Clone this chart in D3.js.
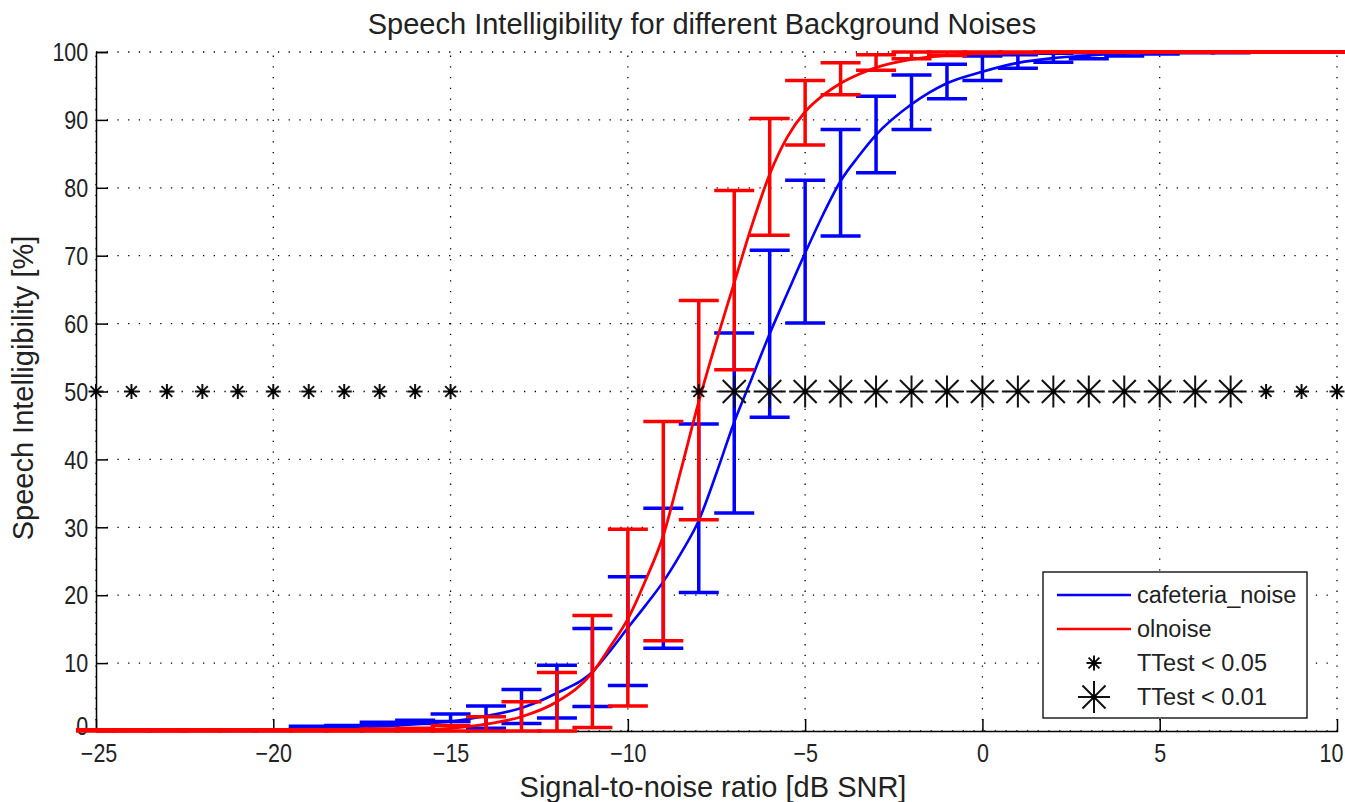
<!DOCTYPE html>
<html>
<head>
<meta charset="utf-8">
<script src="https://cdn.jsdelivr.net/npm/d3@7"></script>
<style>
  body { margin: 0; background: #fff; }
  svg text { font-family: "Liberation Sans", Arial, sans-serif; fill: #222; }
</style>
</head>
<body>
<svg id="chart" width="1345" height="802"></svg>
<script>
// ticks
const xTicks = [-25, -20, -15, -10, -5, 0, 5, 10];
const yTicks = [0, 10, 20, 30, 40, 50, 60, 70, 80, 90, 100];

// fitted curves
const cafeX = [-25, -22, -20, -19, -18, -17, -16, -15, -14, -13, -12, -11, -10.5, -10, -9.5, -9, -8.5, -8, -7.5, -7, -6.5, -6, -5.5, -5, -4.5, -4, -3.5, -3, -2, -1, 0, 1, 2, 3, 4, 5, 6, 8, 10];
const cafeY = [0.05, 0.1, 0.2, 0.3, 0.45, 0.7, 1.0, 1.4, 2.2, 3.4, 5.6, 8.7, 11.8, 15.2, 18.5, 22, 26.2, 31, 38, 45.5, 52, 58.5, 64.5, 70.4, 76, 81, 84.6, 87.8, 92.3, 95.4, 97.1, 98.4, 99.1, 99.5, 99.8, 99.9, 100, 100, 100];

const olX = [-25, -20, -18, -17, -16, -15, -14, -13, -12, -11, -10.5, -10, -9.5, -9, -8.5, -8, -7.5, -7, -6.5, -6, -5.5, -5, -4.5, -4, -3.5, -3, -2, -1, 0, 1, 2, 4, 10];
const olY = [0, 0.02, 0.05, 0.1, 0.2, 0.4, 1.0, 2.1, 4.3, 8.6, 12.4, 16.5, 22.2, 28.8, 38.5, 48.5, 57.5, 66, 74.5, 82, 87.5, 91.2, 93.6, 95.4, 96.7, 97.7, 98.9, 99.5, 99.8, 99.9, 100, 100, 100];

// error bars
const cafeBarX  = [-19, -18, -17, -16, -15, -14, -13, -12, -11, -10, -9, -8, -7, -6, -5, -4, -3, -2, -1, 0, 1, 2, 3, 4, 5, 6, 7, 8, 9, 10];
const cafeBarLo = [0.3, 0.5, 0.8, 1.1, 1.4, 0.4, 1.1, 1.9, 3.6, 6.7, 12.2, 20.4, 32.1, 46.2, 60.1, 72.9, 82.2, 88.6, 93.1, 95.8, 97.6, 98.5, 99.0, 99.4, 99.7, 99.9, 99.9, 100, 100, 100];
const cafeBarHi = [0.7, 0.8, 1.3, 1.6, 2.5, 3.7, 6.1, 9.7, 15.1, 22.7, 32.8, 45.2, 58.6, 70.8, 81.1, 88.6, 93.5, 96.6, 98.2, 99.4, 99.6, 99.8, 99.9, 100, 100, 100, 100, 100, 100, 100];

const olBarX  = [-25, -24, -23, -22, -21, -20, -19, -18, -17, -16, -15, -14, -13, -12, -11, -10, -9, -8, -7, -6, -5, -4, -3, -2, -1, 0, 1, 2, 3, 4, 5, 6, 7, 8, 9, 10];
const olBarLo = [0, 0, 0, 0, 0, 0, 0, 0, 0, 0, 0, 0, 0, 0, 0.5, 3.7, 13.3, 31.1, 53.2, 73.0, 86.3, 93.7, 97.3, 99.0, 99.5, 99.8, 99.9, 100, 100, 100, 100, 100, 100, 100, 100, 100];
const olBarHi = [0.2, 0.2, 0.2, 0.2, 0.2, 0.2, 0.2, 0.2, 0.3, 0.4, 0.8, 2.1, 4.3, 8.6, 17.0, 29.7, 45.6, 63.4, 79.6, 90.2, 95.8, 98.4, 99.6, 100, 100, 100, 100, 100, 100, 100, 100, 100, 100, 100, 100, 100];

// significance markers (all at 50 %)
const p05X = [-25, -24, -23, -22, -21, -20, -19, -18, -17, -16, -15, -8, 8, 9, 10];
const p01X = [-7, -6, -5, -4, -3, -2, -1, 0, 1, 2, 3, 4, 5, 6, 7];
const markY = 50;

const seriesNames = ['cafeteria_noise', 'olnoise', 'TTest < 0.05', 'TTest < 0.01'];
const BLUE = '#0000ff', RED = '#ff0000';

const svg = d3.select('#chart');
const m = { left: 96, right: 1337, top: 52, bottom: 731 };

const x = d3.scaleLinear().domain([-25, 10]).range([m.left, m.right]);
const y = d3.scaleLinear().domain([0, 100]).range([m.bottom, m.top]);

// grid
const grid = svg.append('g').attr('stroke', '#000').attr('stroke-width', 1.3)
  .attr('stroke-dasharray', '1.3,9.4');
grid.selectAll('.gx').data(xTicks).join('line')
  .attr('x1', d => x(d)).attr('x2', d => x(d))
  .attr('y1', m.bottom).attr('y2', m.top);
grid.selectAll('.gy').data(yTicks).join('line')
  .attr('y1', d => y(d)).attr('y2', d => y(d))
  .attr('x1', m.left).attr('x2', m.right);

// axes (inward ticks, MATLAB style, narrow digits)
const xAxis = svg.append('g').attr('transform', `translate(0,${m.bottom})`)
  .call(d3.axisTop(x).tickValues(xTicks).tickSize(12).tickFormat(d3.format('d')));
xAxis.select('.domain').attr('stroke-width', 1.5);
xAxis.selectAll('.tick line').attr('stroke-width', 1.5);
xAxis.selectAll('.tick text').attr('y', 31).attr('dy', 0)
  .attr('font-size', 25).attr('fill', '#222')
  .attr('transform', 'scale(0.86,1)');
xAxis.selectAll('.tick').filter(d => d === 10).select('text').attr('x', -7);
xAxis.selectAll('.tick').filter(d => d === -25).select('text').attr('x', 3);
xAxis.selectAll('.tick').filter(d => d === -25 || d === 10).select('line').remove();

const yAxis = svg.append('g').attr('transform', `translate(${m.left},0)`)
  .call(d3.axisRight(y).tickValues(yTicks).tickSize(12).tickFormat(d3.format('d')));
yAxis.select('.domain').attr('stroke-width', 1.5);
yAxis.selectAll('.tick line').attr('stroke-width', 1.5);
yAxis.selectAll('.tick text').attr('x', -9).attr('text-anchor', 'end')
  .attr('dy', '0.35em').attr('font-size', 25).attr('fill', '#222')
  .attr('transform', 'scale(0.86,1)');
yAxis.selectAll('.tick').filter(d => d === 0).select('text').attr('dy', '0.12em');
yAxis.selectAll('.tick').filter(d => d === 0).select('line').remove();

const line = d3.line().x(d => x(d[0])).y(d => y(d[1])).curve(d3.curveMonotoneX);

function drawBars(xs, lo, hi, color) {
  const g = svg.append('g').attr('stroke', color).attr('stroke-width', 3.5).attr('fill', 'none');
  const capW = 20;
  xs.forEach((xv, i) => {
    const px = x(xv);
    g.append('line').attr('x1', px).attr('x2', px).attr('y1', y(lo[i])).attr('y2', y(hi[i]));
    g.append('line').attr('x1', px - capW).attr('x2', px + capW).attr('y1', y(lo[i])).attr('y2', y(lo[i]));
    g.append('line').attr('x1', px - capW).attr('x2', px + capW).attr('y1', y(hi[i])).attr('y2', y(hi[i]));
  });
}

svg.append('path').datum(d3.zip(cafeX, cafeY)).attr('d', line)
  .attr('fill', 'none').attr('stroke', BLUE).attr('stroke-width', 2.6);
drawBars(cafeBarX, cafeBarLo, cafeBarHi, BLUE);
svg.append('path').datum(d3.zip(olX, olY)).attr('d', line)
  .attr('fill', 'none').attr('stroke', RED).attr('stroke-width', 2.8);
drawBars(olBarX, olBarLo, olBarHi, RED);

function star(g, cx, cy, r, sw) {
  const s = g.append('g').attr('stroke', '#111').attr('stroke-width', sw);
  const d = r * 0.72;
  s.append('line').attr('x1', cx - r).attr('x2', cx + r).attr('y1', cy).attr('y2', cy);
  s.append('line').attr('x1', cx).attr('x2', cx).attr('y1', cy - r).attr('y2', cy + r);
  s.append('line').attr('x1', cx - d).attr('x2', cx + d).attr('y1', cy - d).attr('y2', cy + d);
  s.append('line').attr('x1', cx - d).attr('x2', cx + d).attr('y1', cy + d).attr('y2', cy - d);
  g.append('circle').attr('cx', cx).attr('cy', cy).attr('r', sw * 1.3).attr('fill', '#000');
}

const mk = svg.append('g');
p05X.forEach(v => star(mk, x(v), y(markY), 7.5, 2));
p01X.forEach(v => star(mk, x(v), y(markY), 16, 2));

// title and labels
svg.append('text').attr('x', 702).attr('y', 34)
  .attr('text-anchor', 'middle').attr('font-size', 29)
  .text('Speech Intelligibility for different Background Noises');
svg.append('text').attr('x', 713).attr('y', 797)
  .attr('text-anchor', 'middle').attr('font-size', 29)
  .text('Signal-to-noise ratio [dB SNR]');
svg.append('text').attr('transform', 'translate(33,388) rotate(-90)')
  .attr('text-anchor', 'middle').attr('font-size', 29)
  .text('Speech Intelligibility [%]');

// legend
const lg = svg.append('g').attr('transform', 'translate(1043,572)');
lg.append('rect').attr('width', 264).attr('height', 146)
  .attr('fill', '#fff').attr('stroke', '#000').attr('stroke-width', 1.3);
const rowY = [23, 57, 91, 125];
seriesNames.forEach((name, i) => {
  if (i < 2) {
    lg.append('line').attr('x1', 14).attr('x2', 88).attr('y1', rowY[i]).attr('y2', rowY[i])
      .attr('stroke', i === 0 ? BLUE : RED).attr('stroke-width', 2.6);
  } else {
    star(lg, 51, rowY[i], i === 2 ? 7.5 : 16, 2);
  }
  lg.append('text').attr('x', 94).attr('y', rowY[i]).attr('dy', '0.35em')
    .attr('font-size', 23.5).text(name);
});
</script>
</body>
</html>
